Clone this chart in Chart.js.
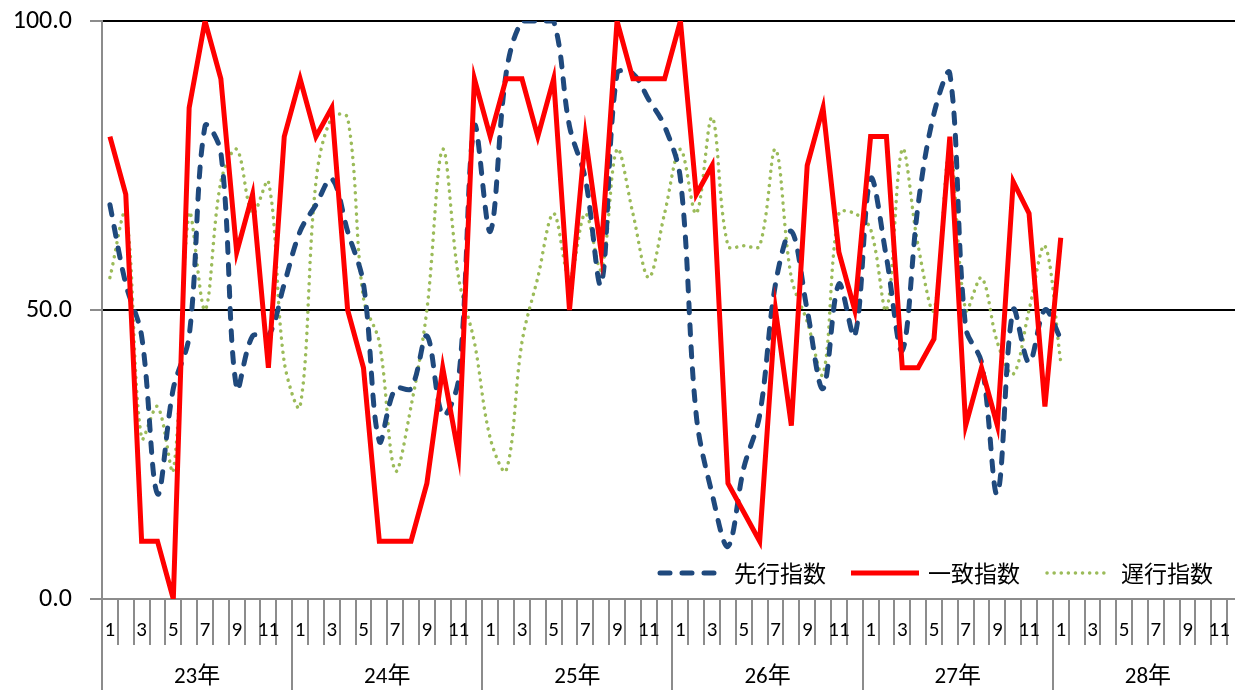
<!DOCTYPE html>
<html><head><meta charset="utf-8">
<script src="https://cdn.jsdelivr.net/npm/chart.js@4.4.1/dist/chart.umd.min.js"></script>
<style>
html,body{margin:0;padding:0;background:#fff;overflow:hidden;width:1235px;height:690px}
#wrap{width:1250px;height:690px;position:relative}
</style></head>
<body><div id="wrap"><canvas id="c" width="1250" height="690"></canvas></div>
<script>
const years = ['23年','24年','25年','26年','27年','28年'];
const months = ['1','2','3','4','5','6','7','8','9','10','11','12'];
const seriesNames = ['先行指数','一致指数','遅行指数'];
const leading = [68.2,54.5,45.5,18.2,36.4,45.5,81.8,77.3,36.4,45.5,45.5,54.5,
  63.6,68.2,72.7,63.6,54.5,27.3,36.4,36.4,45.5,31.8,38,81.8,
  63.6,90.9,100,100,100,81.8,72.7,54.5,90.9,90.9,86.4,81.8,
  72.7,31.8,18.2,9.1,22.7,31.8,54.5,63.6,50,36.4,54.5,45.5,
  72.7,59.1,43,68.2,84,90.9,47,40.9,18.2,50,40.9,50,45];
const coincident = [80,70,10,10,0,85,100,90,60,70,40,80,
  90,80,85,50,40,10,10,10,20,40,25,90,
  80,90,90,80,90,50,80,60,100,90,90,90,
  100,70,75,20,15,10,50,30,75,85,60,50,
  80,80,40,40,45,80,30,40,30,72.2,66.7,33.3,62.5];
const lagging = [55.6,66.7,27.8,33.3,22.2,66.7,50,72.2,77.8,66.7,72.2,41,
  33.3,72.2,83.3,83.3,52,44.4,22.2,33.3,50,77.8,55.6,44.4,
  27.8,22.2,44.4,55.6,66.7,55.6,66.7,57,77.8,66.7,55.6,66.7,
  77.8,66.7,83.3,61.1,61.1,61.1,77.8,55.6,48,38.9,66.7,66.7,
  64,50,77.8,61.1,50,77.8,50,55.6,44.4,38.9,50,61.1,41];
const yTicks = [0, 50, 100];

const categories = [];
years.forEach(y => months.forEach(m => categories.push(y + m + '月')));

const NUM_FONT = "Carlito, Lato, 'Liberation Sans', sans-serif";
const JP_FONT = "Carlito, 'Noto Sans CJK JP', sans-serif";
const AXIS_GRAY = '#8c8c8c';

const axisPlugin = {
  id: 'twoLevelAxis',
  afterDraw(chart) {
    const ctx = chart.ctx, xs = chart.scales.x, area = chart.chartArea;
    const n = categories.length;
    const step = xs.getPixelForValue(1) - xs.getPixelForValue(0);
    const base = area.bottom;
    ctx.save();
    ctx.strokeStyle = AXIS_GRAY;
    ctx.lineWidth = 2;
    for (let i = 0; i <= n; i++) {
      const x = Math.round(xs.getPixelForValue(0) - step / 2 + i * step);
      ctx.beginPath();
      ctx.moveTo(x, base);
      ctx.lineTo(x, i % 12 === 0 ? 690 : base + 46);
      ctx.stroke();
    }
    ctx.fillStyle = '#000';
    ctx.textAlign = 'center';
    ctx.textBaseline = 'middle';
    ctx.font = '21px ' + NUM_FONT;
    categories.forEach((c, i) => {
      const m = months[i % 12];
      if ((i % 12) % 2 === 0) ctx.fillText(m, xs.getPixelForValue(i), base + 32);
    });
    ctx.font = '23px ' + JP_FONT;
    years.forEach((y, k) => {
      const x = (xs.getPixelForValue(k * 12) + xs.getPixelForValue(k * 12 + 11)) / 2;
      ctx.fillText(y, x, base + 78);
    });
    ctx.restore();
  }
};

const legendPlugin = {
  id: 'insideLegend',
  afterDraw(chart) {
    const ctx = chart.ctx;
    const items = [
      {ds: 0, x0: 660, x1: 716, tx: 734},
      {ds: 1, x0: 851, x1: 919, tx: 928},
      {ds: 2, x0: 1047, x1: 1110, tx: 1121}
    ];
    const y = 573;
    ctx.save();
    items.forEach(it => {
      const d = chart.data.datasets[it.ds];
      ctx.beginPath();
      ctx.strokeStyle = d.borderColor;
      ctx.lineWidth = d.borderWidth;
      ctx.lineCap = d.borderCapStyle || 'butt';
      ctx.setLineDash(d.borderDash || []);
      ctx.moveTo(it.x0, y);
      ctx.lineTo(it.x1, y);
      ctx.stroke();
      ctx.setLineDash([]);
      ctx.fillStyle = '#000';
      ctx.font = '23px ' + "'Noto Sans CJK JP', sans-serif";
      ctx.textBaseline = 'middle';
      ctx.textAlign = 'left';
      ctx.fillText(d.label, it.tx, y);
    });
    ctx.restore();
  }
};

new Chart(document.getElementById('c'), {
  type: 'line',
  data: {
    labels: categories,
    datasets: [
      {label: seriesNames[0], data: leading, borderColor: '#1F497D', borderWidth: 5,
       borderDash: [10, 12], borderCapStyle: 'round', tension: 0.35, pointRadius: 0, fill: false, order: 2},
      {label: seriesNames[1], data: coincident, borderColor: '#FF0000', borderWidth: 5,
       borderCapStyle: 'butt', borderJoinStyle: 'miter', tension: 0, pointRadius: 0, fill: false, order: 1},
      {label: seriesNames[2], data: lagging, borderColor: '#9BBB59', borderWidth: 3.5,
       borderDash: [0.1, 7], borderCapStyle: 'round', tension: 0.35, pointRadius: 0, fill: false, order: 3}
    ]
  },
  options: {
    responsive: false,
    animation: false,
    devicePixelRatio: 1,
    layout: {padding: {left: 0, right: 7, top: 21, bottom: 0}},
    plugins: {legend: {display: false}, tooltip: {enabled: false}},
    scales: {
      x: {
        type: 'category',
        offset: true,
        ticks: {display: false},
        grid: {display: false},
        border: {display: true, color: AXIS_GRAY, width: 2},
        afterFit(s) { s.height = 91; s.paddingLeft = 0; s.paddingRight = 0; }
      },
      y: {
        min: 0, max: 100,
        afterBuildTicks(s) { s.ticks = yTicks.map(v => ({value: v})); },
        ticks: {
          callback: v => v.toFixed(1),
          font: {size: 26, family: NUM_FONT, lineHeight: 1.2},
          color: '#000',
          padding: 18
        },
        grid: {
          color: c => (c.tick && c.tick.value === 0) ? 'rgba(0,0,0,0)' : '#000',
          lineWidth: 2,
          tickLength: 12,
          tickColor: AXIS_GRAY,
          tickWidth: 2
        },
        border: {display: true, color: AXIS_GRAY, width: 2},
        afterFit(s) { s.width = 102; s.paddingTop = 0; s.paddingBottom = 0; }
      }
    }
  },
  plugins: [axisPlugin, legendPlugin]
});
</script>
</body></html>
